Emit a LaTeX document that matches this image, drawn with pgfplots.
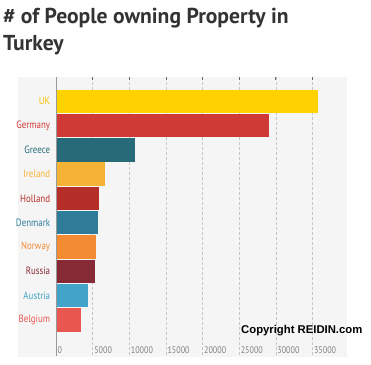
\documentclass[border=0pt]{standalone}
\usepackage{pgfplots}
\pgfplotsset{compat=1.18}
\usepackage{fontspec}
\setmainfont{PT Sans}
\newfontfamily\narrowfont[FakeStretch=0.84]{PT Sans}
\newfontfamily\arialfont{Liberation Sans}
\definecolor{titlec}{RGB}{51,51,51}
\definecolor{bgc}{RGB}{245,245,245}
\definecolor{ukc}{RGB}{255,210,0}
\definecolor{ukl}{RGB}{245,196,0}
\definecolor{dec}{RGB}{207,58,54}
\definecolor{grc}{RGB}{40,107,120}
\definecolor{iec}{RGB}{245,179,53}
\definecolor{nlc}{RGB}{181,46,39}
\definecolor{dkc}{RGB}{47,124,153}
\definecolor{noc}{RGB}{243,139,51}
\definecolor{ruc}{RGB}{134,42,53}
\definecolor{atc}{RGB}{67,163,201}
\definecolor{bec}{RGB}{233,88,80}
\begin{document}
\begin{tikzpicture}[x=1pt,y=1pt]
\useasboundingbox (0,0) rectangle (371,-364);
\fill[bgc] (18,-77) rectangle (347,-357);
\node[anchor=base west, inner sep=0, text=titlec, font=\fontsize{21.6}{27}\selectfont\bfseries] at (3,-23) {\# of People owning Property in};
\node[anchor=base west, inner sep=0, text=titlec, font=\fontsize{21.6}{27}\selectfont\bfseries] at (3,-50) {Turkey};
\begin{axis}[
  at={(56pt,-77pt)}, anchor=north west,
  scale only axis, width=293pt, height=279.3pt,
  xmin=0, xmax=40000, ymin=-1, ymax=10.5, y dir=reverse,
  xbar, bar width=0.96, bar shift=0pt,
  axis line style={draw=none},
  xtick={0,5000,10000,15000,20000,25000,30000,35000},
  xticklabels={0,5000,10000,15000,20000,25000,30000,35000},
  scaled x ticks=false,
  xmajorgrids, grid style={densely dashed, gray!45, line width=0.5pt},
  xtick pos=upper, xticklabel pos=lower,
  x tick style={gray!80!black, line width=0.6pt}, major tick length=3pt,
  xticklabel style={font=\narrowfont\fontsize{9.6}{11}\selectfont, text=gray, anchor=south west, inner sep=0pt, xshift=1.5pt, yshift=2pt},
  ytick={0,1,2,3,4,5,6,7,8,9},
  yticklabels={\textcolor{ukl}{UK},\textcolor{dec}{Germany},\textcolor{grc}{Greece},\textcolor{iec}{Ireland},\textcolor{nlc}{Holland},\textcolor{dkc}{Denmark},\textcolor{noc}{Norway},\textcolor{ruc}{Russia},\textcolor{atc}{Austria},\textcolor{bec}{Belgium}},
  y tick style={draw=none},
  yticklabel style={font=\narrowfont\fontsize{10.6}{12}\selectfont, anchor=east, inner sep=0pt, xshift=-2.7pt},
  clip=false,
]
\addplot[fill=ukc, draw=none] coordinates {(35700,0)};
\addplot[fill=dec, draw=none] coordinates {(29050,1)};
\addplot[fill=grc, draw=none] coordinates {(10750,2)};
\addplot[fill=iec, draw=none] coordinates {(6740,3)};
\addplot[fill=nlc, draw=none] coordinates {(5830,4)};
\addplot[fill=dkc, draw=none] coordinates {(5740,5)};
\addplot[fill=noc, draw=none] coordinates {(5460,6)};
\addplot[fill=ruc, draw=none] coordinates {(5330,7)};
\addplot[fill=atc, draw=none] coordinates {(4370,8)};
\addplot[fill=bec, draw=none] coordinates {(3370,9)};
\draw[gray!80, line width=0.7pt] (axis cs:0,-1) -- (axis cs:0,10.5);
\end{axis}
\node[anchor=base west, inner sep=0, font=\arialfont\bfseries\fontsize{11.3}{13}\selectfont] at (241,-333.5) {Copyright REIDIN.com};
\end{tikzpicture}
\end{document}
